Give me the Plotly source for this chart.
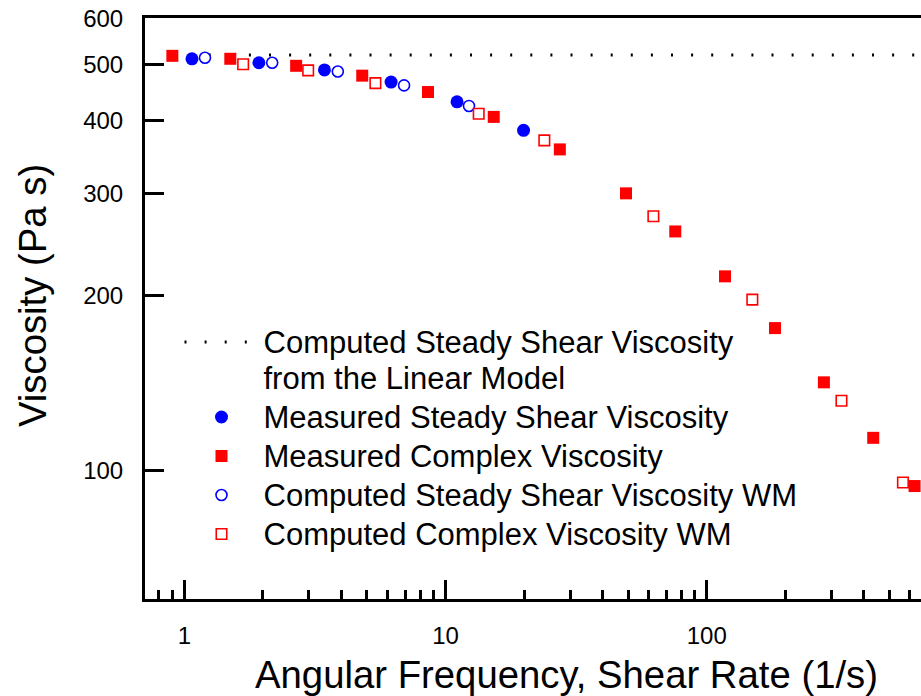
import math
import plotly.graph_objects as go

# ---------------- data ----------------
# Measured complex viscosity (filled red squares)
meas_complex_w = [0.90, 1.50, 2.68, 4.80, 8.57, 15.3, 27.4, 49.1, 75.8, 117.5, 182.6, 281, 434, 625]
meas_complex_eta = [517, 511, 497, 478, 448, 406, 357, 300, 258, 216, 176, 142, 114, 94.2]

# Computed complex viscosity WM (open red squares)
comp_complex_w = [1.68, 2.98, 5.39, 13.4, 23.9, 62.5, 149.5, 328, 564]
comp_complex_eta = [500, 488, 464, 411, 370, 274, 197, 132, 95.5]

# Measured steady shear viscosity (filled blue circles)
meas_steady_rate = [1.07, 1.93, 3.44, 6.19, 11.07, 19.9]
meas_steady_eta = [511, 503, 489, 466, 431, 385]

# Computed steady shear viscosity WM (open blue circles)
comp_steady_rate = [1.20, 2.17, 3.87, 6.94, 12.3]
comp_steady_eta = [513, 503, 486, 460, 424]

# Computed steady shear viscosity from the linear model (dotted line)
linear_rate = [0.87, 1000]
linear_eta = [518.5, 518.5]

# axis ticks
x_tickvals = [1, 10, 100]
x_ticktext = ["1", "10", "100"]
x_minor = [0.8, 0.9] + [m * d for d in (1, 10, 100) for m in range(2, 10)]
y_tickvals = [100, 200, 300, 400, 500, 600]
y_ticktext = ["100", "200", "300", "400", "500", "600"]

# ---------------- figure ----------------
FONT = "Arial, Liberation Sans, sans-serif"
RED = "#FF0000"
BLUE = "#0000FF"


def lbl(*lines):
    return "<br>".join(f"<span style='font-size:31px'>{t}</span>" for t in lines)


fig = go.Figure()

fig.add_trace(go.Scatter(
    x=linear_rate, y=linear_eta, mode="lines",
    line=dict(color="black", width=3, dash="2px,18.1px"),
    name=lbl("Computed Steady Shear Viscosity", "from the Linear Model"),
))
fig.add_trace(go.Scatter(
    x=meas_steady_rate, y=meas_steady_eta, mode="markers",
    marker=dict(symbol="circle", size=13, color=BLUE, line=dict(width=0)),
    name=lbl("Measured Steady Shear Viscosity"),
))
fig.add_trace(go.Scatter(
    x=meas_complex_w, y=meas_complex_eta, mode="markers",
    marker=dict(symbol="square", size=12, color=RED, line=dict(width=0)),
    name=lbl("Measured Complex Viscosity"),
))
fig.add_trace(go.Scatter(
    x=comp_steady_rate, y=comp_steady_eta, mode="markers",
    marker=dict(symbol="circle", size=11, color="white", line=dict(width=1.6, color=BLUE)),
    name=lbl("Computed Steady Shear Viscosity WM"),
))
fig.add_trace(go.Scatter(
    x=comp_complex_w, y=comp_complex_eta, mode="markers",
    marker=dict(symbol="square", size=10.5, color="white", line=dict(width=1.6, color=RED)),
    name=lbl("Computed Complex Viscosity WM"),
))

W, H = 921, 696
L, R, T, B = 145, 0, 18, 97
pw, ph = W - L - R, H - T - B
px_per_dec_x = 261.2
px_one = 184.3
px_per_dec_y = 581.8
ytop = math.log10(600.5)

fig.update_layout(
    width=W, height=H,
    margin=dict(l=L, r=R, t=T, b=B, pad=0),
    paper_bgcolor="white", plot_bgcolor="white",
    font=dict(family=FONT, color="black"),
    showlegend=True,
    legend=dict(
        x=(179.5 - L) / pw, y=(H - B - 317.5) / ph, xanchor="left", yanchor="top",
        bgcolor="rgba(0,0,0,0)", borderwidth=0,
        font=dict(family=FONT, size=27.7, color="black"),
        itemwidth=74, valign="top", tracegroupgap=0,
    ),
    xaxis=dict(
        type="log",
        range=[-(px_one - L) / px_per_dec_x, (W - R - px_one) / px_per_dec_x],
        tickmode="array", tickvals=x_tickvals, ticktext=x_ticktext,
        ticks="inside", ticklen=19, tickwidth=2.5, tickcolor="black",
        minor=dict(tickmode="array", tickvals=x_minor, ticks="inside", ticklen=9,
                   tickwidth=2.5, tickcolor="black", showgrid=False),
        showline=True, linewidth=3, linecolor="black", mirror=True,
        showgrid=False, zeroline=False,
        tickfont=dict(family=FONT, size=24, color="black"),
        ticklabelstandoff=13,
    ),
    yaxis=dict(
        type="log",
        range=[ytop - ph / px_per_dec_y, ytop],
        tickmode="array", tickvals=y_tickvals, ticktext=y_ticktext,
        ticks="inside", ticklen=19, tickwidth=2.5, tickcolor="black",
        showline=True, linewidth=3, linecolor="black",
        showgrid=False, zeroline=False,
        tickfont=dict(family=FONT, size=24, color="black"),
        ticklabelstandoff=14,
    ),
    annotations=[
        dict(text="Angular Frequency, Shear Rate (1/s)", xref="paper", yref="paper",
             x=(566 - L) / pw, y=(H - B - 674.5) / ph, xanchor="center", yanchor="middle",
             showarrow=False, font=dict(family=FONT, size=38.3, color="black")),
        dict(text="Viscosity (Pa s)", xref="paper", yref="paper", textangle=-90,
             x=(32 - L) / pw, y=(H - B - 295) / ph, xanchor="center", yanchor="middle",
             showarrow=False, font=dict(family=FONT, size=38.3, color="black")),
    ],
)

fig.write_html("out.html")
